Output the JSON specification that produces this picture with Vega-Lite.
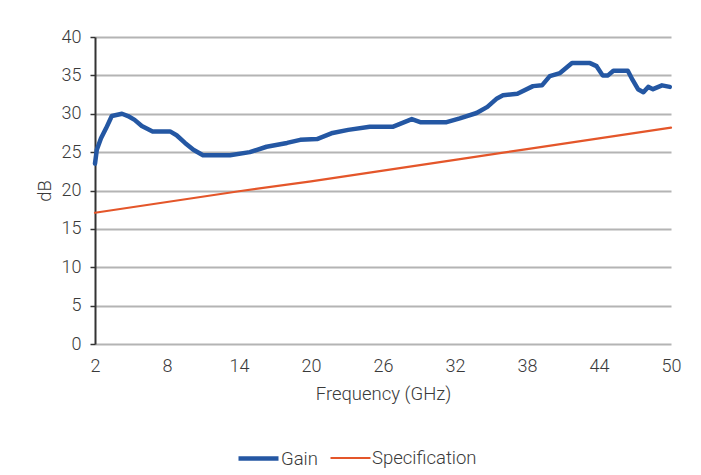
{
  "$schema": "https://vega.github.io/schema/vega-lite/v6.json",
  "width": 576,
  "height": 307,
  "autosize": {"type": "none"},
  "padding": {"left": 95, "top": 37, "right": 30, "bottom": 131},
  "background": "white",
  "config": {
    "view": {"stroke": null},
    "font": "Roboto",
    "axis": {"labelFont": "Roboto", "titleFont": "Roboto", "labelColor": "#3a3a3a", "titleColor": "#3a3a3a", "titleFontWeight": 300, "labelFontWeight": 300},
    "legend": {"labelFont": "Roboto", "labelColor": "#3a3a3a", "labelFontWeight": 300}
  },
  "datasets": {
    "pts": [
      {"f": 2.0, "db": 23.5, "series": "Gain"},
      {"f": 2.15, "db": 25.3, "series": "Gain"},
      {"f": 2.5, "db": 26.8, "series": "Gain"},
      {"f": 2.92, "db": 28.1, "series": "Gain"},
      {"f": 3.4, "db": 29.7, "series": "Gain"},
      {"f": 4.25, "db": 30.0, "series": "Gain"},
      {"f": 4.75, "db": 29.7, "series": "Gain"},
      {"f": 5.3, "db": 29.2, "series": "Gain"},
      {"f": 5.9, "db": 28.4, "series": "Gain"},
      {"f": 6.8, "db": 27.7, "series": "Gain"},
      {"f": 8.25, "db": 27.7, "series": "Gain"},
      {"f": 8.8, "db": 27.2, "series": "Gain"},
      {"f": 9.5, "db": 26.2, "series": "Gain"},
      {"f": 10.2, "db": 25.3, "series": "Gain"},
      {"f": 11.0, "db": 24.6, "series": "Gain"},
      {"f": 13.25, "db": 24.6, "series": "Gain"},
      {"f": 14.9, "db": 25.0, "series": "Gain"},
      {"f": 16.3, "db": 25.7, "series": "Gain"},
      {"f": 18.0, "db": 26.2, "series": "Gain"},
      {"f": 19.1, "db": 26.6, "series": "Gain"},
      {"f": 20.5, "db": 26.7, "series": "Gain"},
      {"f": 21.8, "db": 27.5, "series": "Gain"},
      {"f": 23.1, "db": 27.9, "series": "Gain"},
      {"f": 24.9, "db": 28.3, "series": "Gain"},
      {"f": 26.8, "db": 28.3, "series": "Gain"},
      {"f": 28.4, "db": 29.3, "series": "Gain"},
      {"f": 29.1, "db": 28.9, "series": "Gain"},
      {"f": 31.3, "db": 28.9, "series": "Gain"},
      {"f": 32.4, "db": 29.4, "series": "Gain"},
      {"f": 33.8, "db": 30.1, "series": "Gain"},
      {"f": 34.7, "db": 30.9, "series": "Gain"},
      {"f": 35.5, "db": 32.0, "series": "Gain"},
      {"f": 36.0, "db": 32.4, "series": "Gain"},
      {"f": 37.2, "db": 32.6, "series": "Gain"},
      {"f": 38.5, "db": 33.6, "series": "Gain"},
      {"f": 39.25, "db": 33.7, "series": "Gain"},
      {"f": 39.9, "db": 34.9, "series": "Gain"},
      {"f": 40.75, "db": 35.3, "series": "Gain"},
      {"f": 41.75, "db": 36.6, "series": "Gain"},
      {"f": 43.25, "db": 36.6, "series": "Gain"},
      {"f": 43.8, "db": 36.2, "series": "Gain"},
      {"f": 44.3, "db": 35.0, "series": "Gain"},
      {"f": 44.75, "db": 35.0, "series": "Gain"},
      {"f": 45.2, "db": 35.6, "series": "Gain"},
      {"f": 46.4, "db": 35.6, "series": "Gain"},
      {"f": 46.8, "db": 34.4, "series": "Gain"},
      {"f": 47.25, "db": 33.2, "series": "Gain"},
      {"f": 47.7, "db": 32.8, "series": "Gain"},
      {"f": 48.1, "db": 33.5, "series": "Gain"},
      {"f": 48.5, "db": 33.2, "series": "Gain"},
      {"f": 49.25, "db": 33.7, "series": "Gain"},
      {"f": 49.9, "db": 33.5, "series": "Gain"},
      {"f": 2, "db": 17.1, "series": "Specification"},
      {"f": 8, "db": 18.5, "series": "Specification"},
      {"f": 14, "db": 19.9, "series": "Specification"},
      {"f": 20, "db": 21.2, "series": "Specification"},
      {"f": 26, "db": 22.6, "series": "Specification"},
      {"f": 32, "db": 24.0, "series": "Specification"},
      {"f": 38, "db": 25.4, "series": "Specification"},
      {"f": 44, "db": 26.8, "series": "Specification"},
      {"f": 50, "db": 28.2, "series": "Specification"}
    ]
  },
  "data": {"name": "pts"},
  "mark": {"type": "line", "strokeJoin": "round", "strokeCap": "round"},
  "encoding": {
    "x": {
      "field": "f", "type": "quantitative",
      "title": "Frequency (GHz)",
      "scale": {"domain": [2, 50], "nice": false, "zero": false},
      "axis": {
        "values": [2, 8, 14, 20, 26, 32, 38, 44, 50],
        "grid": false, "domain": false, "ticks": false, "tickSize": 0,
        "labelPadding": 13, "labelFontSize": 18, "titleFontSize": 18.5, "titlePadding": 9,
        "labelFlush": false
      }
    },
    "y": {
      "field": "db", "type": "quantitative",
      "title": "dB",
      "scale": {"domain": [0, 40], "nice": false},
      "axis": {
        "values": [0, 5, 10, 15, 20, 25, 30, 35, 40],
        "grid": true, "gridColor": "#b4b4b4", "gridWidth": 2,
        "domain": true, "domainColor": "#333333", "domainWidth": 2,
        "ticks": true, "tickColor": "#333333", "tickSize": 5, "tickWidth": 1.5,
        "labelPadding": 9, "labelFontSize": 18, "titleFontSize": 18.5, "titlePadding": 7
      }
    },
    "color": {
      "field": "series", "type": "nominal",
      "scale": {"domain": ["Gain", "Specification"], "range": ["#2457a3", "#e4562a"]},
      "legend": {
        "title": null, "orient": "none", "direction": "horizontal",
        "legendX": 141, "legendY": 399,
        "symbolType": "stroke", "symbolSize": 1600, "symbolStrokeWidth": 4,
        "labelFontSize": 18.5, "labelOffset": 0, "columnPadding": 8
      }
    },
    "strokeWidth": {
      "field": "series", "type": "nominal",
      "scale": {"domain": ["Gain", "Specification"], "range": [4.5, 2.2]},
      "legend": null
    }
  }
}
